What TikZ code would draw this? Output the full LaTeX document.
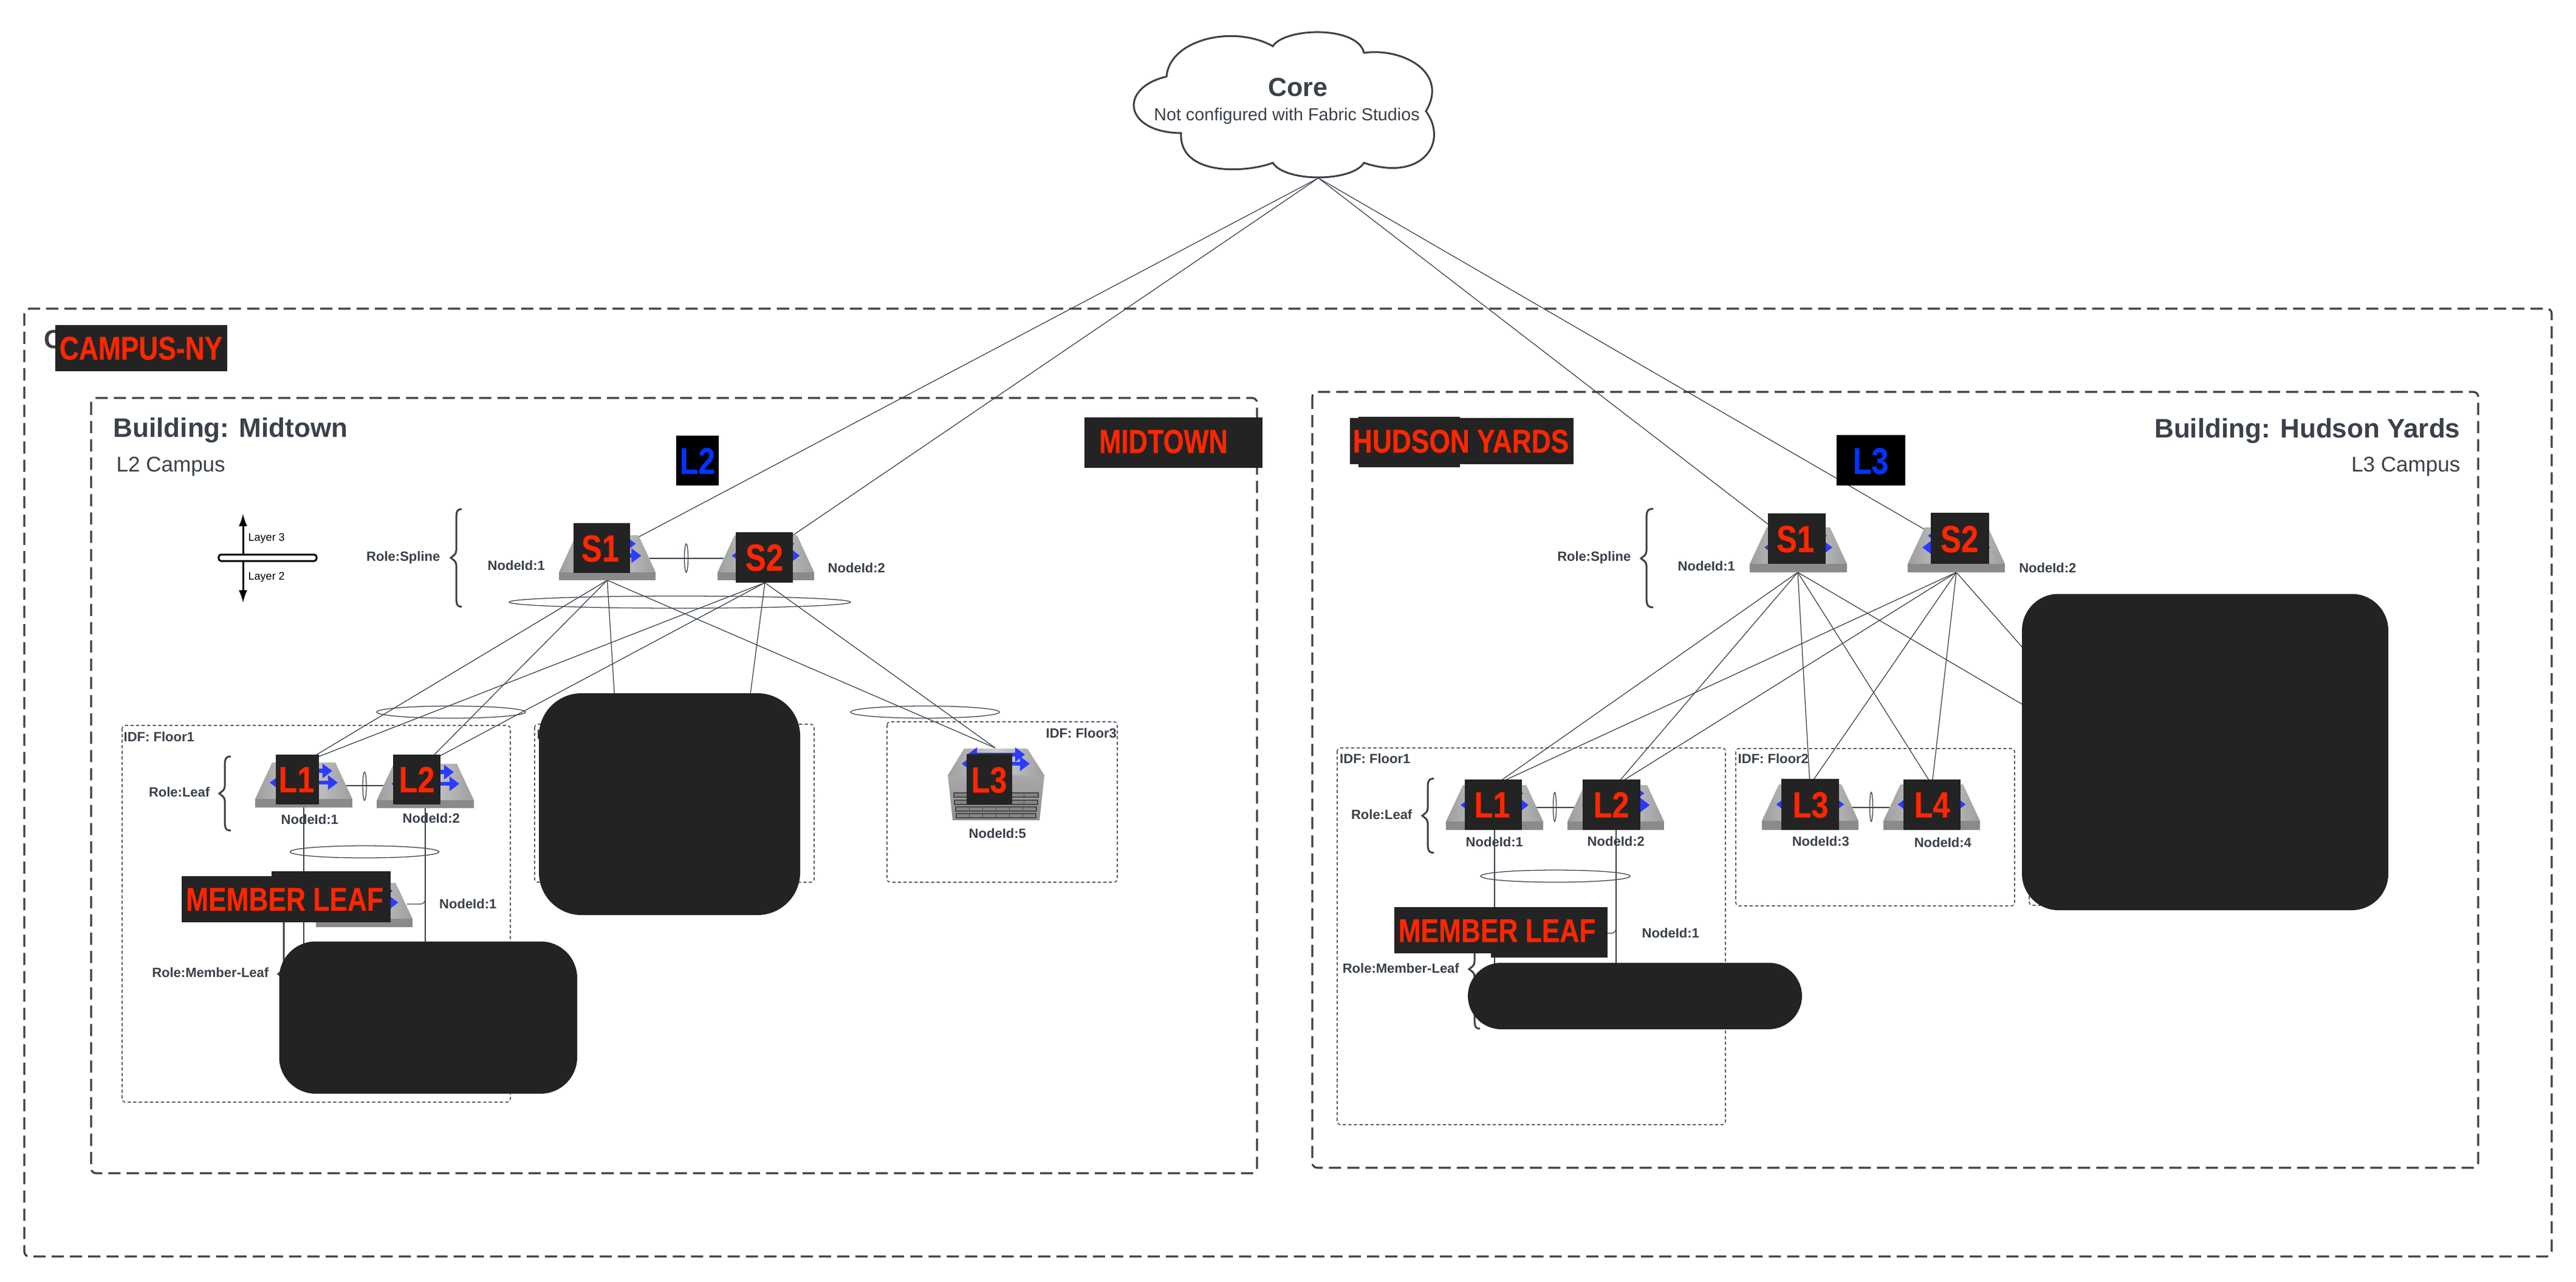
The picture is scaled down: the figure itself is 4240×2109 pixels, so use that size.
\documentclass[tikz,border=0pt]{standalone}
\usepackage{graphicx}
\usepackage{fontspec}
\setmainfont{Liberation Sans}
\newfontfamily\redface[BoldFeatures={FakeBold=0.5}]{Liberation Sans}
\usetikzlibrary{arrows.meta}
\definecolor{ink}{HTML}{3A414A}
\definecolor{redact}{HTML}{232323}
\definecolor{redtxt}{HTML}{FF2600}
\definecolor{bluetxt}{HTML}{0433FF}
\definecolor{arrowblue}{HTML}{2A3CFF}
\tikzset{
  wire/.style={draw=ink,line width=0.36pt},
  ring/.style={draw=ink,line width=0.36pt},
  framebig/.style={draw=ink,line width=0.9pt,dash pattern=on 5.7pt off 2.85pt,rounded corners=0.08cm},
  frameidf/.style={draw=ink!85,line width=0.5pt,dash pattern=on 1.5pt off 1.1pt,rounded corners=0.05cm},
  bracepath/.style={draw=ink,line width=0.85pt},
  solidbox/.style={fill=redact,inner sep=0pt,outer sep=0pt},
  blackbox/.style={fill=black,inner sep=0pt,outer sep=0pt},
  blobA/.style={solidbox,rounded corners=0.7cm},
  blobB/.style={solidbox,rounded corners=0.55cm},
  blobC/.style={solidbox,rounded corners=0.6cm},
  bluearrow/.style={draw=arrowblue,line width=1.9pt,{Triangle[length=4.6pt,width=6.6pt]}-{Triangle[length=4.6pt,width=6.6pt]}},
}
% font size given in reference pixels
\newcommand\fsz[1]{\pgfmathsetmacro\fszv{#1*0.28453}\fontsize{\fszv}{\fszv}\selectfont}
% text node whose vertical centre is the centre of the capitals
\newcommand\lab[7]{\node[anchor=#2,inner sep=0pt,text=ink,text height={#5*0.00716cm},text depth=0pt] (#1) at (#3,#4) {\fsz{#5}#6#7};}
% condensed label on a redaction patch
\newcommand\red[7]{\node[inner sep=0pt,text=#7,text height={#4*0.00716cm},text depth=0pt] (#1) at (#2,#3) {\redface\fsz{#4}\bfseries\scalebox{#5}[1]{#6}};}
% rectangle node from corners
\newcommand\blk[6]{\pgfmathsetmacro\bw{(#5-#3)*0.01}\pgfmathsetmacro\bh{(#6-#4)*0.01}\node[#2,minimum width=\bw cm,minimum height=\bh cm] (#1) at ({(#3+#5)/2},{(#4+#6)/2}) {};}
% switch icon: x0 x1 ytop yfront ybottom
\newcommand\swtch[5]{%
  \pgfmathsetmacro\cxx{(#1+#2)/2}\pgfmathsetmacro\yaa{#3+0.23*(#4-#3)}\pgfmathsetmacro\ybb{#3+0.55*(#4-#3)}%
  \shade[left color=black!38,right color=black!38,middle color=black!20] ({#1+28},#3) -- ({#2-28},#3) -- (#2,#4) -- (#1,#4) -- cycle;
  \fill[black!46] (#1,#4) rectangle (#2,#5);
  \draw[bluearrow] ({\cxx-47},\yaa) -- ({\cxx+47},\yaa);
  \draw[bluearrow] ({\cxx-56},\ybb) -- ({\cxx+56},\ybb);
}
% curly brace: xtip xline xend ytop ymid ybottom
\newcommand\curly[6]{\draw[bracepath] (#3,#4) .. controls (#2,#4) and (#2,{#4+6}) .. (#2,{#4+20}) -- (#2,{#5-12}) .. controls (#2,{#5-5}) and ({#1+3},{#5-3}) .. (#1,#5) .. controls ({#1+3},{#5+3}) and (#2,{#5+5}) .. (#2,{#5+12}) -- (#2,{#6-20}) .. controls (#2,{#6-6}) and (#2,#6) .. (#3,#6);}
\begin{document}
\begin{tikzpicture}[x=0.01cm,y=-0.01cm]
\useasboundingbox (0,0) rectangle (4240,2109);
\fill[white] (0,0) rectangle (4240,2109);

% ---------- frames
\draw[framebig] (40,508) rectangle (4200,2068);
\draw[framebig] (150,655) rectangle (2069,1931);
\draw[framebig] (2160,645) rectangle (4079,1922);
\draw[frameidf] (201,1194) rectangle (840,1814);
\draw[frameidf] (880,1192) rectangle (1340,1452);
\draw[frameidf] (1460,1188) rectangle (1839,1452);
\draw[frameidf] (2201,1231) rectangle (2840,1851);
\draw[frameidf] (2857,1232) rectangle (3316,1491);
\draw[frameidf] (3340,1232) rectangle (3800,1490);

% ---------- anchor points of the links
\coordinate (coreB) at (2170,293);
\coordinate (mS1in) at (1011,905);
\coordinate (mS2in) at (1252,917);
\coordinate (hS1in) at (2939,885);
\coordinate (hS2in) at (3200,890);
\coordinate (mS1b) at (999.5,955);
\coordinate (mS2b) at (1259,959);
\coordinate (mL1t) at (499.5,1255);
\coordinate (mL2t) at (700,1257);
\coordinate (mBa) at (1018,1250);
\coordinate (mBb) at (1221,1250);
\coordinate (mL3t) at (1638,1231);
\coordinate (hS1b) at (2959,942);
\coordinate (hS2b) at (3220,942);
\coordinate (hL1t) at (2460,1292);
\coordinate (hL2t) at (2660,1292);
\coordinate (hL3t) at (2979,1292);
\coordinate (hL4t) at (3180,1292);
\coordinate (hBt) at (3500,1260);

% ---------- uplinks
\draw[wire] (coreB) -- (mS1in);
\draw[wire] (coreB) -- (mS2in);
\draw[wire] (coreB) -- (hS1in);
\draw[wire] (coreB) -- (hS2in);

% ---------- midtown links
\foreach \a in {mS1b,mS2b}{
  \draw[wire] (\a) -- (mL1t);
  \draw[wire] (\a) -- (mL2t);
  \draw[wire] (\a) -- (mL3t);
}
\draw[wire] (mS1b) -- (mBa);
\draw[wire] (mS2b) -- (mBb);
\coordinate (mS1r) at (1069,919);
\coordinate (mS2l) at (1191,919);
\draw[wire] (mS1r) -- (mS2l);
\coordinate (mL1r) at (570,1293);
\coordinate (mL2l) at (631,1293);
\draw[wire] (mL1r) -- (mL2l);
\coordinate (mL1d) at (500,1328);
\coordinate (mL1e) at (500,1560);
\coordinate (mL2d) at (700,1330);
\coordinate (mL2e) at (700,1560);
\draw[wire] (mL1d) -- (mL1e);
\draw[wire] (mL2d) -- (mL2e);
\coordinate (mMr) at (670,1488);
\coordinate (mMu) at (700,1470);
\draw[wire,rounded corners=0.08cm] (mMr) -| (mMu);

% ---------- hudson links
\foreach \a in {hS1b,hS2b}{
  \foreach \b in {hL1t,hL2t,hL3t,hL4t,hBt}{
    \draw[wire] (\a) -- (\b);
  }
}
\coordinate (hL1r) at (2528,1329);
\coordinate (hL2l) at (2591,1329);
\draw[wire] (hL1r) -- (hL2l);
\coordinate (hL3r) at (3048,1329);
\coordinate (hL4l) at (3110,1329);
\draw[wire] (hL3r) -- (hL4l);
\coordinate (hL1d) at (2460,1366);
\coordinate (hL1e) at (2460,1590);
\coordinate (hL2d) at (2660,1366);
\coordinate (hL2e) at (2660,1590);
\draw[wire] (hL1d) -- (hL1e);
\draw[wire] (hL2d) -- (hL2e);
\coordinate (hMr) at (2640,1536);
\coordinate (hMu) at (2660,1520);
\draw[wire,rounded corners=0.08cm] (hMr) -| (hMu);

% ---------- bundle rings
\draw[ring] (1119,991) ellipse (281 and 10);
\draw[ring] (742.5,1172) ellipse (122.5 and 10);
\draw[ring] (600,1402) ellipse (122.5 and 10);
\draw[ring] (1522.5,1172) ellipse (122.5 and 10);
\draw[ring] (1129.5,918.5) ellipse (3 and 23.5);
\draw[ring] (600,1294) ellipse (3 and 23.5);
\draw[ring] (2560,1442) ellipse (123 and 10);
\draw[ring] (2559,1328) ellipse (2.5 and 24);
\draw[ring] (3080,1328) ellipse (2.5 and 24);

% ---------- cloud
\draw[fill=white,draw=ink,line width=0.85pt,line join=miter]
  (2095,76) .. controls (2115,45) and (2235,42) .. (2245,87)
  .. controls (2310,78) and (2385,120) .. (2347,183)
  .. controls (2385,235) and (2340,300) .. (2245,268)
  .. controls (2225,300) and (2115,300) .. (2095,268)
  .. controls (2050,285) and (1940,290) .. (1944,219)
  .. controls (1850,218) and (1840,145) .. (1920,126)
  .. controls (1925,65) and (2030,40) .. cycle;
\lab{coreT}{center}{2136}{143}{43}{\bfseries}{Core}
\lab{coreS}{center}{2118}{188}{28.7}{}{Not configured with Fabric Studios}

% ---------- hidden-title fragments
\lab{campusC}{west}{72}{558}{43}{\bfseries}{C}
\lab{floorI}{west}{883}{1209}{22}{\bfseries}{I}

% ---------- titles
\lab{mTitle}{west}{186}{704}{44}{\bfseries}{Building: Midtown}
\lab{mSub}{west}{191}{764}{35}{}{L2 Campus}
\lab{hTitle}{east}{4050}{705}{44}{\bfseries}{Building: Hudson Yards}
\lab{hSub}{east}{4050}{764}{35}{}{L3 Campus}

% ---------- layer marker
\node[draw=black,fill=white,line width=0.85pt,rounded corners=0.04cm,inner sep=0pt,minimum width=1.61cm,minimum height=0.105cm] (bar) at (440.5,918) {};
\coordinate (upT) at (400,845);
\coordinate (dnT) at (400,992.5);
\coordinate (barU) at (400,913);
\coordinate (barD) at (400,923.5);
\draw[black,line width=0.85pt,-{Latex[length=0.21cm,width=0.14cm]}] (barU) -- (upT);
\draw[black,line width=0.85pt,-{Latex[length=0.21cm,width=0.14cm]}] (barD) -- (dnT);
\node[anchor=west,inner sep=0pt,text=black,text height={18*0.00716cm},text depth=0pt] (lay3) at (408,884) {\fsz{18}Layer 3};
\node[anchor=west,inner sep=0pt,text=black,text height={18*0.00716cm},text depth=0pt] (lay2) at (408,948.5) {\fsz{18}Layer 2};

% ---------- role labels and braces
\lab{rSm}{east}{725}{916}{22}{\bfseries}{Role:Spline}
\curly{742}{751}{760}{838}{918}{998.5}
\lab{rLm}{east}{346}{1304}{22}{\bfseries}{Role:Leaf}
\curly{361}{370}{380}{1245}{1306}{1367}
\lab{rMm}{east}{443}{1601}{22}{\bfseries}{Role:Member-Leaf}
\curly{458}{467}{476}{1500}{1603}{1706}
\lab{rSh}{east}{2685}{916}{22}{\bfseries}{Role:Spline}
\curly{2701}{2710}{2721}{837.5}{919}{999.5}
\lab{rLh}{east}{2325}{1340.5}{22}{\bfseries}{Role:Leaf}
\curly{2341}{2350}{2360}{1281.5}{1342.5}{1403.5}
\lab{rMh}{east}{2402.5}{1594}{22}{\bfseries}{Role:Member-Leaf}
\curly{2418}{2427}{2436}{1497}{1595}{1693}

% ---------- IDF labels
\lab{idfA}{west}{203}{1212.5}{22}{\bfseries}{IDF: Floor1}
\lab{idfC}{east}{1838.5}{1206.5}{22}{\bfseries}{IDF: Floor3}
\lab{idfD}{west}{2204.5}{1249}{22}{\bfseries}{IDF: Floor1}
\lab{idfE}{west}{2860}{1249}{22}{\bfseries}{IDF: Floor2}

% ---------- switch icons
\swtch{920}{1079}{881}{942}{955}
\swtch{1181}{1340}{881}{942}{955}
\swtch{420}{580}{1255}{1315}{1329}
\swtch{620}{780}{1257}{1317}{1330}
\swtch{520}{679}{1453}{1512}{1526}
\swtch{2880}{3040}{868}{928}{942}
\swtch{3140}{3300}{868}{928}{942}
\swtch{2380}{2540}{1292}{1352}{1366}
\swtch{2580}{2739}{1292}{1352}{1366}
\swtch{2900}{3059}{1291}{1351}{1366}
\swtch{3100}{3259}{1291}{1351}{1366}

% ---------- chassis switch
\shade[left color=black!38,right color=black!38,middle color=black!20] (1587,1232) -- (1691,1232) -- (1719,1276) -- (1560,1276) -- cycle;
\shade[top color=black!34,bottom color=black!44] (1560,1276) -- (1719,1276) -- (1711,1350) -- (1568,1350) -- cycle;
\foreach \yy/\xa/\xb in {1305/1570/1709,1317/1571/1708,1328/1573/1706,1339/1574/1705}{
  \draw[fill=black!48,draw=black!72,line width=0.3pt] (\xa,\yy) rectangle (\xb,\yy+7);
  \foreach \k in {1,...,5}{\draw[black!72,line width=0.25pt] ({\xa+\k*(\xb-\xa)/6},\yy) -- ({\xa+\k*(\xb-\xa)/6},\yy+7);}
}
\draw[bluearrow] (1592,1242) -- (1687,1242);
\draw[bluearrow] (1583,1257) -- (1695,1257);

% ---------- node ids
\lab{idM1}{west}{802}{931}{22}{\bfseries}{NodeId:1}
\lab{idM2}{west}{1362}{935}{22}{\bfseries}{NodeId:2}
\lab{idL1}{west}{462}{1349}{22}{\bfseries}{NodeId:1}
\lab{idL2}{west}{662}{1347}{22}{\bfseries}{NodeId:2}
\lab{idML}{west}{722.5}{1488}{22}{\bfseries}{NodeId:1}
\lab{idL5}{west}{1594}{1372}{22}{\bfseries}{NodeId:5}
\lab{idH1}{west}{2761}{932}{22}{\bfseries}{NodeId:1}
\lab{idH2}{west}{3322.5}{935}{22}{\bfseries}{NodeId:2}
\lab{idHa}{west}{2412}{1386}{22}{\bfseries}{NodeId:1}
\lab{idHb}{west}{2612}{1385}{22}{\bfseries}{NodeId:2}
\lab{idHc}{west}{2949}{1385}{22}{\bfseries}{NodeId:3}
\lab{idHd}{west}{3150}{1387}{22}{\bfseries}{NodeId:4}
\lab{idHm}{west}{2702}{1536}{22}{\bfseries}{NodeId:1}

% ---------- patches
\blk{pCampus}{solidbox}{91}{535}{374}{611}
\blk{pMid}{solidbox}{1785}{687}{2078}{769.5}
\blk{pHudA}{solidbox}{2222}{688}{2590}{763.5}
\blk{pHudB}{solidbox}{2236}{686}{2403}{768.5}
\blk{pL2}{blackbox}{1113}{717}{1183}{799}
\blk{pL3}{blackbox}{3023}{716}{3136}{799}
\blk{pS1}{solidbox}{944}{861}{1037}{943}
\blk{pS2}{solidbox}{1211}{876}{1305}{959}
\blk{pLa}{solidbox}{454}{1241.5}{525}{1324}
\blk{pLb}{solidbox}{647}{1241.5}{725}{1324}
\blk{pLc}{solidbox}{1591}{1241}{1665.5}{1323.5}
\blk{pMa}{solidbox}{299}{1442}{643}{1518}
\blk{pMb}{solidbox}{447}{1434}{643}{1518}
\blk{pHs1}{solidbox}{2910}{845}{3005}{928}
\blk{pHs2}{solidbox}{3178}{844}{3273.5}{927.5}
\blk{pHa}{solidbox}{2411}{1283}{2505}{1366}
\blk{pHb}{solidbox}{2605}{1283}{2700}{1366}
\blk{pHc}{solidbox}{2932}{1282}{3027}{1365.5}
\blk{pHd}{solidbox}{3132.5}{1283}{3227}{1366}
\blk{pHma}{solidbox}{2295}{1493}{2646}{1569}
\blk{pHmb}{solidbox}{2454}{1493}{2646}{1576}
\blk{blobOne}{blobA}{887}{1141}{1317}{1506}
\blk{blobTwo}{blobC}{459.5}{1549.5}{950}{1800}
\blk{blobThree}{blobC}{3328}{977.5}{3931}{1498}
\blk{blobFour}{blobB}{2416}{1584.5}{2966}{1694}

% ---------- patch labels
\red{tCampus}{232}{572.5}{54}{0.82}{CAMPUS-NY}{redtxt}
\red{tMid}{1915}{726}{55}{0.79}{MIDTOWN}{redtxt}
\red{tHud}{2404.5}{725.5}{54}{0.82}{HUDSON YARDS}{redtxt}
\red{tBlueA}{1148}{758}{61}{0.82}{L2}{bluetxt}
\red{tBlueB}{3079}{758}{61}{0.82}{L3}{bluetxt}
\red{tS1}{988}{902}{62}{0.82}{S1}{redtxt}
\red{tS2}{1258}{917}{62}{0.82}{S2}{redtxt}
\red{tLa}{488}{1282.5}{60}{0.84}{L1}{redtxt}
\red{tLb}{686}{1282.5}{60}{0.84}{L2}{redtxt}
\red{tLc}{1628}{1283}{60}{0.84}{L3}{redtxt}
\red{tMm}{468.5}{1479.5}{54}{0.82}{MEMBER LEAF}{redtxt}
\red{tHs1}{2955}{886.5}{62}{0.82}{S1}{redtxt}
\red{tHs2}{3225}{886.5}{62}{0.82}{S2}{redtxt}
\red{tHa}{2456}{1324}{60}{0.84}{L1}{redtxt}
\red{tHb}{2652}{1324}{60}{0.84}{L2}{redtxt}
\red{tHc}{2980}{1324}{60}{0.84}{L3}{redtxt}
\red{tHd}{3180}{1324}{60}{0.84}{L4}{redtxt}
\red{tHm}{2464}{1531}{54}{0.82}{MEMBER LEAF}{redtxt}
\end{tikzpicture}
\end{document}
